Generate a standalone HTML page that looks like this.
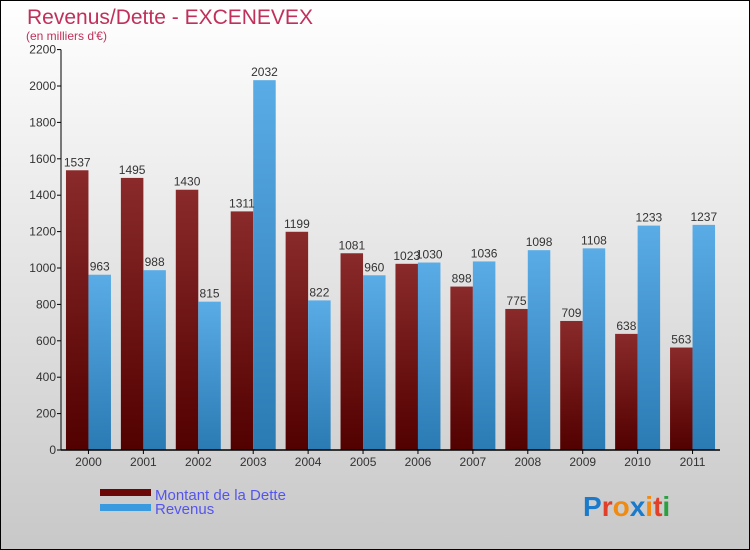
<!DOCTYPE html>
<html><head><meta charset="utf-8"><style>
body{margin:0;width:750px;height:550px;overflow:hidden}
svg{display:block;font-family:"Liberation Sans",sans-serif}
</style></head><body>
<svg width="750" height="550" viewBox="0 0 750 550">
<defs>
<linearGradient id="bg" x1="0" y1="0" x2="0" y2="1"><stop offset="0" stop-color="#ffffff"/><stop offset="1" stop-color="#c8c8c8"/></linearGradient>
<linearGradient id="gd" x1="0" y1="0" x2="0" y2="1"><stop offset="0" stop-color="#8a2a2a"/><stop offset="1" stop-color="#520000"/></linearGradient>
<linearGradient id="gr" x1="0" y1="0" x2="0" y2="1"><stop offset="0" stop-color="#5aace6"/><stop offset="1" stop-color="#2a7ab4"/></linearGradient>
</defs>
<rect x="0.5" y="0.5" width="749" height="549" fill="url(#bg)" stroke="#000"/>
<text x="27" y="24" font-size="21" fill="#c0305a">Revenus/Dette - EXCENEVEX</text>
<text x="26" y="40" font-size="12" fill="#c0305a">(en milliers d'€)</text>
<g id="yaxis"></g>
<g id="bars"></g>
<g id="xaxis"></g>
<g>
<rect x="100" y="489" width="51" height="7" fill="#6a0808"/>
<text x="155" y="500" font-size="15" fill="#5555ee">Montant de la Dette</text>
<rect x="100" y="504" width="51" height="7" fill="#3a9ae0"/>
<text x="155" y="514" font-size="15" fill="#5555ee">Revenus</text>
</g>
<text x="583" y="516" font-size="28" font-weight="bold"><tspan fill="#1a7acc">P</tspan><tspan fill="#e0402a">r</tspan><tspan fill="#f08a10">o</tspan><tspan fill="#1a7acc">x</tspan><tspan fill="#f08a10">i</tspan><tspan fill="#e0402a">t</tspan><tspan fill="#2aa040">i</tspan></text>
</svg>
<script>
const categories=["2000","2001","2002","2003","2004","2005","2006","2007","2008","2009","2010","2011"];
const dette=[1537,1495,1430,1311,1199,1081,1023,898,775,709,638,563];
const revenus=[963,988,815,2032,822,960,1030,1036,1098,1108,1233,1237];
const yTicks=[0,200,400,600,800,1000,1200,1400,1600,1800,2000,2200];
const NS="http://www.w3.org/2000/svg";
const x0=61,x1=720,yBase=450,yTop=49.6,yMax=2200;
const band=(x1-x0)/categories.length;
const y=v=>yBase-(v/yMax)*(yBase-yTop);
const xc=i=>x0+band*(i+0.5);
function mk(t,a,p){const e=document.createElementNS(NS,t);for(const k in a)e.setAttribute(k,a[k]);p.appendChild(e);return e;}
const ya=document.getElementById('yaxis'),bg=document.getElementById('bars'),xa=document.getElementById('xaxis');
yTicks.forEach(v=>{
 const l=mk('line',{x1:x0-4,x2:x0,y1:y(v),y2:y(v),stroke:'#000'},ya);
 
 
 const t=mk('text',{x:x0-5,y:y(v)+4,'font-size':12,'text-anchor':'end',fill:'#333'},ya);
 
 
 t.textContent=v;
});
const bw=22.5;
categories.forEach((c,i)=>{
 const cx=xc(i);
 const r1=mk('rect',{x:cx-bw,y:y(dette[i]),width:bw,height:yBase-y(dette[i]),fill:'url(#gd)'},bg);
 
 
 const r2=mk('rect',{x:cx,y:y(revenus[i]),width:bw,height:yBase-y(revenus[i]),fill:'url(#gr)'},bg);
 
 
 const t1=mk('text',{x:cx-bw/2,y:y(dette[i])-4,'font-size':12,'text-anchor':'middle',fill:'#333'},bg);
 
 
 t1.textContent=dette[i];
 const t2=mk('text',{x:cx+bw/2,y:y(revenus[i])-4,'font-size':12,'text-anchor':'middle',fill:'#333'},bg);
 
 
 t2.textContent=revenus[i];
 const tk=mk('line',{x1:cx,x2:cx,y1:yBase,y2:yBase+4,stroke:'#000'},xa);
 
 
 const xl=mk('text',{x:cx,y:yBase+16,'font-size':12,'text-anchor':'middle',fill:'#333'},xa);
 
 
 xl.textContent=c;
});
const ax=mk('line',{x1:x0,x2:x0,y1:yTop,y2:yBase,stroke:'#000'},ya);


const bx=mk('line',{x1:x0,x2:x1,y1:yBase,y2:yBase,stroke:'#000','stroke-width':1.5},xa);


</script>
</body></html>
